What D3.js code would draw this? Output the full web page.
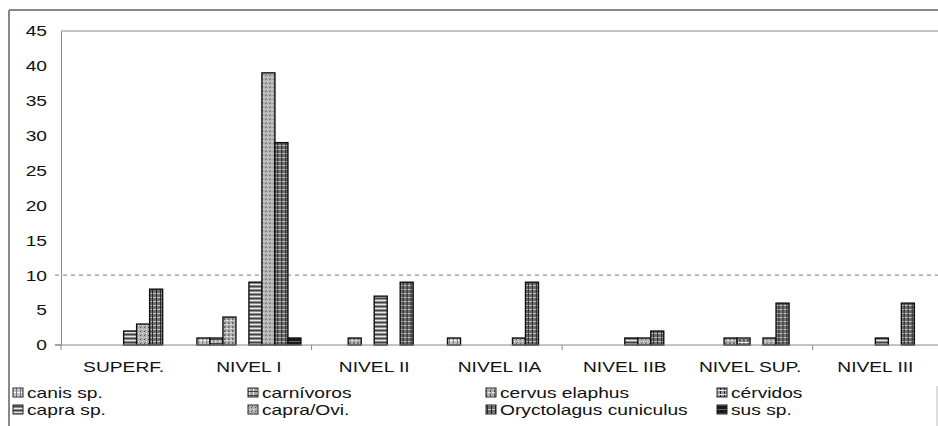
<!DOCTYPE html>
<html>
<head>
<meta charset="utf-8">
<script src="https://cdn.jsdelivr.net/npm/d3@7"></script>
<style>
body { margin: 0; background: #fff; }
text { font-family: "Liberation Sans", Arial, sans-serif; fill: #111; }
</style>
</head>
<body>
<script>
var niveles = ["SUPERF.", "NIVEL I", "NIVEL II", "NIVEL IIA", "NIVEL IIB", "NIVEL SUP.", "NIVEL III"];
var especies = ["canis sp.", "carnívoros", "cervus elaphus", "cérvidos", "capra sp.", "capra/Ovi.", "Oryctolagus cuniculus", "sus sp."];
var canis = [0, 1, 0, 1, 0, 0, 0];
var carnivoros = [0, 1, 0, 0, 0, 0, 0];
var cervus = [0, 4, 1, 0, 0, 1, 0];
var cervidos = [0, 0, 0, 0, 0, 1, 0];
var capra = [2, 9, 7, 0, 1, 0, 1];
var capraOvi = [3, 39, 0, 1, 1, 1, 0];
var oryctolagus = [8, 29, 9, 9, 2, 6, 6];
var sus = [0, 1, 0, 0, 0, 0, 0];
var yTicks = [0, 5, 10, 15, 20, 25, 30, 35, 40, 45];

var series = [canis, carnivoros, cervus, cervidos, capra, capraOvi, oryctolagus, sus];

var w = 938, h = 426;
var sx = 1.28; // el original tiene el texto estirado a lo ancho
var svg = d3.select("body").append("svg").attr("width", w).attr("height", h);

// texto estirado horizontalmente
function texto(x, y, s, size, anchor) {
    return svg.append("text")
        .attr("transform", "translate(" + x + "," + y + ") scale(" + sx + ",1)")
        .attr("text-anchor", anchor || "start")
        .attr("font-size", size)
        .text(s);
}

// patrones de relleno
var defs = svg.append("defs");
function patron(id, bg, draw) {
    var p = defs.append("pattern").attr("id", id).attr("patternUnits", "userSpaceOnUse")
        .attr("width", 4).attr("height", 4);
    p.append("rect").attr("width", 4).attr("height", 4).attr("fill", bg);
    draw(p);
}
patron("p0", "#c4c4c4", function(p) {
    p.append("rect").attr("y", 0).attr("width", 4).attr("height", 1).attr("fill", "#fff");
    p.append("rect").attr("x", 0).attr("width", 1).attr("height", 4).attr("fill", "#777");
});
patron("p1", "#a0a0a0", function(p) {
    p.append("rect").attr("x", 1).attr("width", 1).attr("height", 4).attr("fill", "#eee");
    p.append("rect").attr("y", 3).attr("width", 4).attr("height", 1).attr("fill", "#444");
});
patron("p2", "#b0b0b0", function(p) {
    p.append("rect").attr("x", 0).attr("y", 0).attr("width", 2).attr("height", 1).attr("fill", "#eee");
    p.append("rect").attr("x", 2).attr("y", 2).attr("width", 1).attr("height", 2).attr("fill", "#444");
});
patron("p3", "#9a9a9a", function(p) {
    p.append("rect").attr("x", 0).attr("width", 1).attr("height", 4).attr("fill", "#222");
    p.append("rect").attr("y", 2).attr("width", 4).attr("height", 1).attr("fill", "#eee");
});
patron("p4", "#8c8c8c", function(p) {
    p.append("rect").attr("y", 0).attr("width", 4).attr("height", 1).attr("fill", "#e8e8e8");
    p.append("rect").attr("y", 2).attr("width", 4).attr("height", 1).attr("fill", "#444");
});
patron("p5", "#b4b4b4", function(p) {
    p.append("rect").attr("x", 1).attr("y", 1).attr("width", 1).attr("height", 1).attr("fill", "#f0f0f0");
    p.append("rect").attr("x", 3).attr("y", 3).attr("width", 1).attr("height", 1).attr("fill", "#555");
    p.append("rect").attr("x", 0).attr("y", 2).attr("width", 1).attr("height", 1).attr("fill", "#777");
});
patron("p6", "#6e6e6e", function(p) {
    p.append("rect").attr("y", 1).attr("width", 3).attr("height", 1).attr("fill", "#c8c8c8");
    p.append("rect").attr("x", 3).attr("width", 1).attr("height", 4).attr("fill", "#2a2a2a");
});
patron("p7", "#1a1a1a", function(p) {
    p.append("rect").attr("y", 1).attr("width", 4).attr("height", 1).attr("fill", "#666");
});

// marco exterior
svg.append("line").attr("x1", 9).attr("y1", 10).attr("x2", 9).attr("y2", h)
    .attr("stroke", "#888").attr("stroke-width", 2);
svg.append("line").attr("x1", 9).attr("y1", 10).attr("x2", w).attr("y2", 10)
    .attr("stroke", "#888").attr("stroke-width", 2);
svg.append("line").attr("x1", 937).attr("y1", 386).attr("x2", 937).attr("y2", h)
    .attr("stroke", "#bbb").attr("stroke-width", 1);

var x0 = d3.scaleBand().domain(niveles).range([61, 938]).padding(0);
var x1 = d3.scaleBand().domain(d3.range(especies.length)).range([0, x0.bandwidth()])
    .paddingInner(0).paddingOuter(0.82);
var y = d3.scaleLinear().domain([0, 45]).range([345, 31]);

// borde superior del area del grafico
svg.append("line").attr("x1", 61).attr("y1", 31).attr("x2", 938).attr("y2", 31)
    .attr("stroke", "#888").attr("stroke-width", 1);

// linea discontinua en 10
svg.append("line").attr("x1", 55).attr("x2", 938).attr("y1", y(10)).attr("y2", y(10))
    .attr("stroke", "#999").attr("stroke-width", 1.3).attr("stroke-dasharray", "4,4");

// barras
niveles.forEach(function(nivel, i) {
    var g = svg.append("g").attr("transform", "translate(" + x0(nivel) + ",0)");
    series.forEach(function(s, j) {
        if (s[i] <= 0) return;
        g.append("rect")
            .attr("x", x1(j))
            .attr("y", y(s[i]))
            .attr("width", x1.bandwidth())
            .attr("height", y(0) - y(s[i]))
            .attr("fill", "url(#p" + j + ")")
            .attr("stroke", "#111")
            .attr("stroke-width", 1.4);
    });
});

// eje y
var yAxis = d3.axisLeft(y).tickValues(yTicks).tickSize(0).tickPadding(14);
var gy = svg.append("g").attr("transform", "translate(61,0)").call(yAxis);
gy.select(".domain").attr("stroke", "#888");
gy.selectAll("text")
    .attr("font-size", 15)
    .attr("font-family", "Liberation Sans, Arial, sans-serif")
    .attr("fill", "#111")
    .attr("x", -14 / sx)
    .attr("transform", "scale(" + sx + ",1)");
svg.append("line").attr("x1", 55).attr("x2", 61).attr("y1", y(0)).attr("y2", y(0)).attr("stroke", "#888");

// eje x
svg.append("line").attr("x1", 55).attr("x2", 938).attr("y1", y(0)).attr("y2", y(0))
    .attr("stroke", "#888").attr("stroke-width", 1);
[0, 2, 4, 6].forEach(function(i) {
    var xx = x0(niveles[i]);
    svg.append("line").attr("x1", xx).attr("x2", xx).attr("y1", y(0)).attr("y2", y(0) + 5)
        .attr("stroke", "#888");
});
niveles.forEach(function(d) {
    texto(x0(d) + x0.bandwidth() / 2, 372, d, 15, "middle");
});

// leyenda
var legX = [13, 248, 486, 717];
especies.forEach(function(d, j) {
    var col = j % 4, row = Math.floor(j / 4);
    var lx = legX[col], ly = 388 + row * 17;
    svg.append("rect").attr("x", lx).attr("y", ly).attr("width", 10).attr("height", 9)
        .attr("fill", "url(#p" + j + ")").attr("stroke", "#222").attr("stroke-width", 1);
    texto(lx + 14, ly + 9.5, d, 15);
});
</script>
</body>
</html>
